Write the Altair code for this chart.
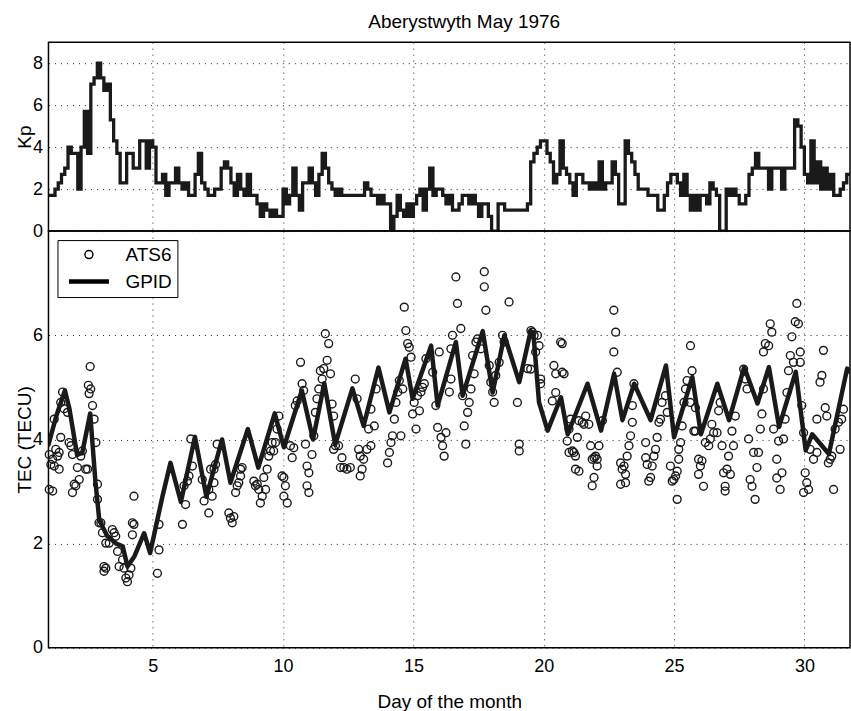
import altair as alt
import pandas as pd

FONT = "Liberation Sans"
INK = "#1a1a1a"

# ---- Kp, 3-hourly values, one list per day of May 1976
KP = [
    [1.7, 1.7, 2.0, 2.3, 2.7, 3.0, 4.0, 3.7],
    [3.7, 2.0, 4.0, 5.7, 3.7, 7.0, 7.3, 8.0],
    [7.3, 6.7, 7.0, 5.3, 4.3, 3.7, 2.3, 2.3],
    [3.7, 3.7, 3.0, 3.0, 4.3, 4.3, 3.0, 4.3],
    [4.0, 2.3, 2.3, 2.7, 1.7, 2.3, 2.3, 3.0],
    [2.3, 2.0, 2.3, 1.7, 1.7, 2.7, 3.7, 2.3],
    [2.0, 1.7, 1.7, 2.0, 2.0, 3.0, 3.3, 3.0],
    [2.3, 1.7, 2.7, 2.0, 1.7, 2.7, 1.7, 1.7],
    [1.3, 0.7, 1.3, 1.0, 0.7, 1.0, 0.7, 0.7],
    [2.0, 1.3, 1.7, 3.0, 1.7, 1.0, 2.3, 2.3],
    [3.0, 2.3, 1.7, 2.7, 3.7, 3.0, 2.3, 2.0],
    [1.7, 2.0, 1.7, 1.7, 1.7, 1.7, 1.7, 1.7],
    [1.7, 2.3, 2.0, 1.7, 1.7, 1.3, 1.7, 1.3],
    [1.3, 0.0, 0.7, 1.7, 1.0, 0.7, 1.3, 0.7],
    [1.3, 1.7, 2.0, 1.0, 2.0, 3.0, 1.7, 2.0],
    [2.0, 1.7, 1.3, 1.7, 1.0, 1.0, 1.3, 1.7],
    [1.7, 1.3, 1.7, 1.3, 0.7, 1.3, 1.3, 0.7],
    [0.0, 0.0, 1.3, 1.3, 1.0, 1.0, 1.0, 1.0],
    [1.0, 1.0, 1.0, 1.3, 3.3, 3.7, 4.0, 4.3],
    [4.3, 3.7, 3.3, 2.3, 2.7, 4.3, 3.0, 2.7],
    [2.3, 1.7, 2.7, 2.7, 2.3, 2.3, 2.0, 2.3],
    [2.0, 3.3, 2.0, 2.3, 2.3, 3.3, 2.7, 1.3],
    [1.3, 4.3, 3.7, 3.3, 2.7, 2.0, 2.0, 2.0],
    [1.7, 1.7, 1.7, 1.0, 1.0, 1.7, 2.3, 2.7],
    [2.7, 2.3, 1.7, 2.7, 1.7, 1.0, 1.7, 1.0],
    [1.7, 1.7, 1.3, 2.3, 2.0, 1.7, 0.0, 0.0],
    [2.0, 1.7, 2.0, 1.7, 1.3, 1.3, 1.7, 2.7],
    [3.0, 3.7, 3.0, 3.0, 3.0, 2.0, 3.0, 3.0],
    [3.0, 2.0, 3.0, 3.0, 3.0, 5.3, 5.0, 4.0],
    [2.7, 2.3, 4.3, 2.3, 3.3, 2.0, 3.0, 2.0],
    [2.7, 1.7, 1.7, 2.0, 2.3, 2.7],
]
X_END = 31.75  # right edge of the plotted time span

# ---- GPID model TEC (day, TECU) at the turning points of the curve
GPID = [
    (1.0, 3.9), (1.3, 4.45), (1.63, 4.94), (1.8, 4.6), (2.1, 3.7), (2.3, 3.75),
    (2.6, 4.5), (2.8, 3.2), (2.95, 2.45), (3.25, 2.15), (3.6, 2.0), (3.85, 1.95),
    (4.03, 1.56), (4.3, 1.76), (4.67, 2.2), (4.9, 1.82), (5.37, 2.9), (5.68, 3.55),
    (6.08, 2.8), (6.62, 4.05), (7.06, 2.9), (7.66, 4.0), (7.98, 3.17), (8.65, 4.2),
    (9.05, 3.46), (9.68, 4.5), (10.03, 3.85), (10.72, 4.94), (11.15, 4.0),
    (11.58, 5.08), (12.0, 3.9), (12.66, 4.98), (13.09, 4.26), (13.66, 5.38),
    (14.08, 4.52), (14.7, 5.55), (14.97, 4.78), (15.68, 5.8), (15.93, 4.65),
    (16.63, 5.87), (16.89, 4.84), (17.66, 6.08), (18.04, 4.9), (18.49, 6.0),
    (19.06, 5.1), (19.5, 6.08), (19.6, 6.05), (19.82, 4.71), (20.15, 4.17),
    (20.66, 4.81), (20.92, 4.1), (21.68, 5.07), (22.2, 4.17), (22.7, 5.26),
    (23.02, 4.37), (23.47, 5.07), (24.1, 4.37), (24.69, 5.42), (25.0, 4.04),
    (25.7, 5.2), (26.03, 4.1), (26.66, 5.07), (27.11, 4.37), (27.69, 5.39),
    (28.2, 4.69), (28.64, 5.39), (29.03, 4.24), (29.67, 5.3), (30.05, 3.79),
    (30.3, 4.1), (30.94, 3.72), (31.64, 5.36), (31.75, 5.3),
]

# ---- ATS6 measured TEC (day, TECU)
ATS6 = [
    (1.03, 3.71), (1.09, 3.52), (1.16, 3.62), (1.22, 3.49), (1.28, 3.81), (1.35, 3.68),
    (1.41, 3.75), (1.41, 3.43), (1.47, 4.04), (1.22, 4.39), (1.03, 3.04), (1.16, 3.01),
    (1.47, 4.71), (1.54, 4.91), (1.60, 4.59), (1.73, 4.52), (1.79, 3.94), (1.86, 3.88),
    (1.92, 3.71), (1.99, 3.14), (1.92, 2.98), (2.05, 3.11), (2.11, 3.46), (2.18, 3.23),
    (2.24, 3.68), (2.30, 3.78), (2.43, 3.43), (2.50, 3.43), (2.56, 4.88), (2.62, 4.97),
    (2.53, 5.04), (2.60, 5.40), (2.69, 4.65), (2.75, 4.39), (2.82, 3.94), (2.88, 3.14),
    (2.88, 2.85), (2.94, 2.40), (3.01, 2.40), (3.07, 2.21), (3.20, 2.01), (3.33, 2.01),
    (3.45, 2.27), (3.52, 2.21), (3.58, 2.14), (3.65, 1.85), (3.71, 1.56), (3.13, 1.56),
    (3.20, 1.53), (3.13, 1.47), (3.84, 1.69), (3.90, 1.53), (3.97, 1.34), (4.03, 1.27),
    (4.09, 1.40), (4.16, 1.53), (4.28, 2.91), (4.22, 2.40), (4.28, 2.37), (4.22, 2.17),
    (5.24, 2.37), (5.24, 1.88), (5.18, 1.43), (6.14, 2.37), (6.26, 2.75), (6.20, 3.11),
    (6.33, 3.20), (6.39, 3.30), (6.52, 3.49), (6.46, 4.01), (6.97, 2.82), (6.90, 3.23),
    (7.22, 3.43),
    (7.15, 3.04), (7.15, 2.59), (7.28, 2.91), (7.35, 3.17), (7.35, 3.43), (7.41, 3.52),
    (7.47, 3.91), (7.92, 2.59), (7.98, 2.49), (8.05, 2.40), (8.11, 2.52), (8.18, 2.98),
    (8.24, 3.11), (8.30, 3.17), (8.37, 3.30), (8.37, 3.43), (8.43, 3.46), (8.88, 3.20),
    (8.94, 3.11), (9.01, 3.14), (9.07, 3.04), (9.13, 2.78), (9.20, 2.91), (9.26, 3.27),
    (9.33, 3.04), (9.39, 3.43), (9.45, 3.68), (9.52, 3.78), (9.58, 3.94), (9.64, 3.78),
    (9.71, 3.94), (9.77, 4.20), (9.84, 4.45), (9.96, 3.30), (10.03, 3.27), (10.09, 3.11),
    (10.03, 2.91), (10.16, 2.78), (10.28, 3.88), (10.35, 3.65), (10.41, 3.84), (10.47, 4.65),
    (10.54, 4.74), (10.73, 5.07), (10.67, 5.48), (10.79, 4.94), (10.86, 3.91), (10.92, 3.49),
    (10.99, 3.36), (10.92, 3.11), (10.99, 2.98), (11.11, 3.71), (11.18, 4.07), (11.24, 4.52),
    (11.30, 4.78), (11.37, 4.97), (11.43, 5.32), (11.50, 5.16), (11.56, 5.36), (11.62, 6.03),
    (11.75, 5.84), (11.69, 5.52), (11.82, 5.26), (11.88, 4.68), (11.94, 4.45), (11.94, 3.81),
    (12.01, 3.88), (12.13, 3.88), (12.20, 3.46), (12.26, 3.65), (12.33, 3.46), (12.45, 3.43),
    (12.58, 3.46), (12.77, 5.16), (12.84, 4.78), (12.90, 3.81), (12.96, 3.68), (12.96, 3.30),
    (13.03, 3.43), (13.09, 3.62), (13.22, 3.81), (13.28, 4.20),
    (13.37, 3.88), (13.50, 4.26), (13.37, 4.58), (13.57, 4.97), (14.01, 3.55), (14.08, 3.75),
    (14.14, 3.94), (14.20, 4.07), (14.27, 4.39), (14.33, 4.71), (14.40, 4.91), (14.46, 5.13),
    (14.52, 4.07), (14.59, 4.97), (14.65, 6.54), (14.71, 6.09), (14.78, 5.84), (14.84, 5.77),
    (14.91, 5.58), (14.97, 4.49), (15.03, 4.71), (15.10, 4.20), (15.16, 4.84), (15.23, 4.55),
    (15.29, 4.91), (15.35, 5.00), (15.42, 5.07), (15.48, 5.55), (15.74, 5.29), (15.86, 4.65),
    (15.93, 4.23), (15.99, 5.68), (16.06, 4.04), (16.12, 3.88), (16.18, 3.68), (16.25, 4.13),
    (16.38, 4.91), (16.44, 5.16), (16.50, 6.00), (16.44, 5.74), (16.63, 7.12), (16.69, 6.61),
    (16.82, 6.13), (16.89, 4.84), (16.95, 4.26), (17.01, 3.91), (17.08, 4.52), (17.14, 4.71),
    (17.21, 4.97), (17.27, 5.61), (17.33, 5.26), (17.40, 5.87), (17.46, 5.93), (17.59, 5.74),
    (17.72, 7.22), (17.72, 6.93), (17.78, 6.48), (17.91, 5.42), (17.97, 5.10), (18.04, 4.91),
    (18.10, 4.71), (18.16, 5.23), (18.29, 5.48), (18.42, 6.00), (18.48, 5.87), (18.67, 6.64),
    (18.99, 4.71), (19.06, 3.91), (19.06, 3.78), (19.38, 5.36), (19.51, 6.09),
    (19.56, 6.06), (19.63, 6.00), (19.76, 6.00), (19.82, 5.80), (19.69, 5.68), (19.50, 5.35),
    (19.88, 5.16), (19.88, 5.07), (20.39, 5.42), (20.46, 5.26), (20.71, 5.29), (20.78, 5.26),
    (20.65, 5.87), (20.71, 5.84), (20.46, 4.90), (20.33, 4.74), (21.03, 4.39), (20.97, 4.20),
    (20.90, 3.97), (20.97, 3.75), (21.10, 3.78), (21.16, 3.75), (21.22, 3.68), (21.29, 4.04),
    (21.22, 3.43), (21.35, 3.39), (21.35, 4.36), (21.48, 4.33), (21.54, 4.29), (21.61, 4.45),
    (21.73, 4.29), (21.80, 3.88), (21.86, 3.62), (21.93, 3.65), (21.99, 3.68), (22.05, 3.62),
    (22.05, 3.49), (21.93, 3.27), (21.86, 3.11), (22.12, 3.88), (22.25, 4.36), (22.69, 6.48),
    (22.76, 6.06), (22.69, 5.68), (22.82, 5.29), (22.95, 3.55), (23.01, 3.43), (23.08, 3.49),
    (23.14, 3.33), (23.14, 3.17), (22.95, 3.14), (23.20, 3.68), (23.27, 3.88), (23.33, 4.07),
    (23.40, 4.33), (23.46, 5.07), (23.40, 4.65), (23.91, 3.94), (23.91, 3.65), (23.97, 3.52),
    (24.10, 3.27), (24.03, 3.20), (24.16, 3.49), (24.23, 3.68), (24.29, 3.81), (24.35, 4.04),
    (24.42, 4.33), (24.48, 4.39), (24.54, 4.71), (24.67, 4.84), (24.74, 4.52), (24.86, 3.49),
    (24.93, 3.20), (24.99, 3.23), (25.06, 3.30), (25.12, 3.39), (25.18, 3.81), (25.25, 3.94),
    (25.31, 4.26), (25.38, 4.71), (25.44, 4.97), (25.50, 5.13), (25.12, 2.85), (25.18, 3.62),
    (25.63, 5.80), (25.69, 5.32), (25.76, 4.16),
    (25.62, 4.71), (25.82, 4.61), (25.82, 4.16), (25.94, 3.62), (26.01, 3.49), (26.07, 3.59),
    (25.94, 3.33), (26.13, 3.10), (26.20, 3.94), (26.33, 3.88), (26.39, 4.01), (26.45, 4.29),
    (26.52, 4.13), (26.65, 4.13), (26.71, 4.55), (26.77, 4.71), (26.84, 3.88), (26.90, 3.36),
    (26.96, 3.10), (26.96, 3.01), (27.03, 3.43), (27.09, 3.68), (27.16, 3.33), (27.22, 4.16),
    (27.28, 3.88), (27.35, 4.45), (27.67, 5.35), (27.73, 5.16), (27.80, 4.97), (27.86, 4.01),
    (27.92, 3.23), (27.99, 3.10), (28.05, 3.75), (28.11, 2.85), (28.18, 3.46), (28.24, 3.75),
    (28.31, 4.20), (28.37, 4.49), (28.43, 4.97), (28.43, 5.68), (28.50, 5.84), (28.63, 5.80),
    (28.69, 6.22), (28.75, 6.06), (28.82, 4.20), (28.94, 3.62), (29.01, 3.97), (28.94, 3.26),
    (29.07, 3.04), (29.14, 3.36), (29.20, 4.01), (29.26, 4.39), (29.33, 4.90), (29.39, 5.32),
    (29.46, 5.61), (29.52, 5.97), (29.58, 5.48), (29.71, 6.61), (29.65, 6.26), (29.77, 6.22),
    (29.84, 5.68), (29.84, 5.48), (29.90, 4.65), (29.97, 4.13), (30.03, 3.36), (30.09, 3.17),
    (29.97, 2.98), (30.16, 3.04), (30.22, 3.81), (30.35, 3.62), (30.48, 3.75), (30.48, 4.39),
    (30.60, 5.10), (30.67, 5.23), (30.73, 5.71), (30.80, 4.61), (30.86, 4.45), (30.92, 3.55),
    (30.99, 3.62), (31.05, 3.68), (31.12, 3.04), (31.18, 4.20), (31.31, 4.33), (31.37, 3.81),
    (31.43, 4.39), (31.50, 4.58),
]

DAY_TICKS = [5, 10, 15, 20, 25, 30]
KP_TICKS = [0, 2, 4, 6, 8]
TEC_TICKS = [0, 2, 4, 6]

# ---- tables
kp_rows = []
for d, vals in enumerate(KP, start=1):
    for i, v in enumerate(vals):
        kp_rows.append({"day": d + i / 8.0, "kp": v})
kp_rows.append({"day": X_END, "kp": KP[-1][-1]})
kp_df = pd.DataFrame(kp_rows)
gpid_df = pd.DataFrame(GPID, columns=["day", "tec"]).assign(series="GPID")
ats_df = pd.DataFrame(ATS6, columns=["day", "tec"]).assign(series="ATS6")

W = 802
xscale = alt.Scale(domain=[1, X_END], nice=False, zero=False)

top = alt.Chart(kp_df).mark_line(
    interpolate="step-after", color=INK, strokeWidth=3.3, clip=True
).encode(
    x=alt.X("day:Q", scale=xscale,
            axis=alt.Axis(values=DAY_TICKS, labels=False, title=None, grid=True,
                          labelPadding=0, minExtent=0, maxExtent=0)),
    y=alt.Y("kp:Q", scale=alt.Scale(domain=[0, 9], nice=False),
            axis=alt.Axis(values=KP_TICKS, title="Kp", titleX=-18, titleY=94.5,
                          titleAngle=270, titleAlign="center",
                          titleBaseline="alphabetic", labelPadding=6)),
).properties(
    width=W, height=189,
    title=alt.TitleParams("Aberystwyth May 1976", font=FONT, fontSize=19,
                          fontWeight="normal", color="black", anchor="middle",
                          frame="group", offset=10, dx=15),
)

series_dom = ["ATS6", "GPID"]
pts = alt.Chart(ats_df).mark_point(
    filled=False, size=62, color=INK, opacity=1
).encode(
    x=alt.X("day:Q", scale=xscale,
            axis=alt.Axis(values=DAY_TICKS, title="Day of the month", grid=True,
                          labelPadding=10, titleY=60, titleBaseline="alphabetic")),
    y=alt.Y("tec:Q", scale=alt.Scale(domain=[0, 8], nice=False),
            axis=alt.Axis(values=TEC_TICKS, title="TEC (TECU)", titleX=-18,
                          titleY=208.5, titleAngle=270, titleAlign="center",
                          titleBaseline="alphabetic", labelPadding=6)),
    shape=alt.Shape("series:N",
                    scale=alt.Scale(domain=series_dom, range=["circle", "M-5,0L5,0"]),
                    legend=alt.Legend(title=None, orient="top-left")),
    strokeWidth=alt.StrokeWidth("series:N",
                                scale=alt.Scale(domain=series_dom, range=[1.4, 4.5]),
                                legend=alt.Legend(title=None, orient="top-left")),
)
line = alt.Chart(gpid_df).mark_line(
    color=INK, strokeWidth=4.5, strokeJoin="round", strokeCap="round", clip=True
).encode(
    x=alt.X("day:Q", scale=xscale),
    y=alt.Y("tec:Q", scale=alt.Scale(domain=[0, 8], nice=False)),
)
bottom = alt.layer(pts, line).properties(width=W, height=417)

chart = alt.vconcat(top, bottom, spacing=0, bounds="flush").resolve_scale(
    shape="independent", strokeWidth="independent"
).resolve_legend(
    shape="independent", strokeWidth="independent"
).properties(
    padding={"left": 14.5, "top": 12, "right": 0, "bottom": 2}
).configure(font=FONT).configure_view(
    stroke="black", strokeWidth=1.5
).configure_axis(
    domain=False, ticks=False, tickSize=0,
    gridColor="black", gridDash=[1, 5], gridOpacity=0.85, gridWidth=1,
    labelFont=FONT, labelFontSize=18, labelColor="black",
    titleFont=FONT, titleFontSize=19, titleFontWeight="normal", titleColor="black",
).configure_legend(
    labelFont=FONT, labelFontSize=19, labelColor="black",
    strokeColor="black", fillColor="white", padding=5, offset=9,
    symbolSize=64, symbolStrokeColor="black", symbolOffset=17, labelOffset=27,
    rowPadding=7,
)

chart.save("out.html", embed_options={"renderer": "svg", "actions": False})
